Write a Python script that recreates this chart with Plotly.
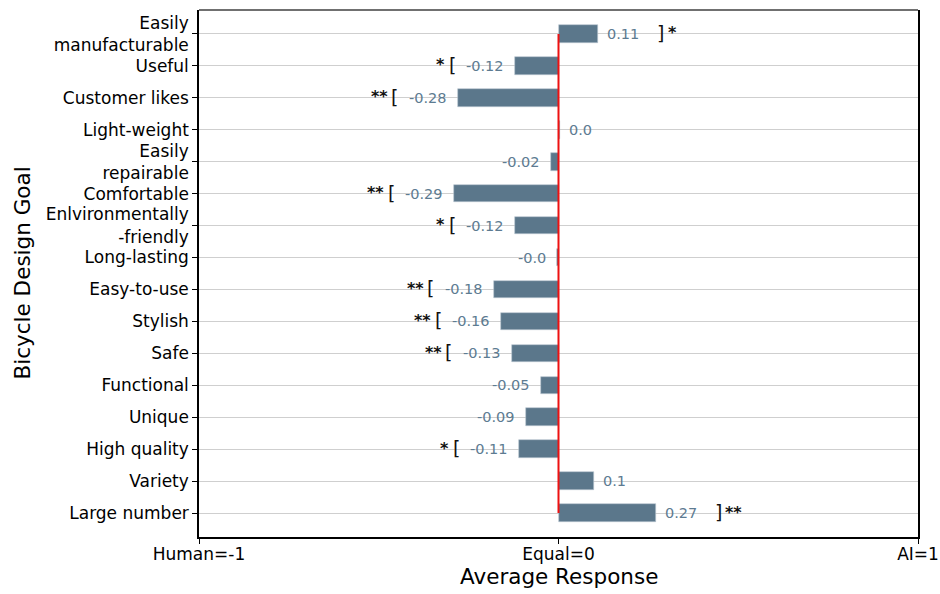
import plotly.graph_objects as go

categories = [
    "Easily<br>manufacturable", "Useful", "Customer likes", "Light-weight",
    "Easily<br>repairable", "Comfortable", "Enlvironmentally<br>-friendly",
    "Long-lasting", "Easy-to-use", "Stylish", "Safe", "Functional",
    "Unique", "High quality", "Variety", "Large number",
]
values = [0.11, -0.12, -0.28, 0.004, -0.02, -0.29, -0.12, -0.004,
          -0.18, -0.16, -0.13, -0.05, -0.09, -0.11, 0.10, 0.27]
significance = ["*", "*", "**", "", "", "**", "*", "",
                "**", "**", "**", "", "", "*", "", "**"]
x_tick_vals = [-1, 0, 1]
x_tick_text = ["Human=-1", "Equal=0", "AI=1"]
x_title = "Average Response"
y_title = "Bicycle Design Goal"

BAR = "#5b778b"
TXT = "#5d7b91"
FONT = "DejaVu Sans"

fig = go.Figure()
fig.add_trace(go.Bar(
    x=values, y=categories, orientation="h", width=0.55,
    marker=dict(color=BAR, line=dict(color="#b8c6d0", width=0.6)),
    hoverinfo="skip", showlegend=False,
))
fig.add_trace(go.Scatter(
    x=[0, 0], y=[categories[0], categories[-1]], mode="lines",
    line=dict(color="#ee1111", width=2), hoverinfo="skip", showlegend=False,
))

annotations = []
for cat, v, sig in zip(categories, values, significance):
    label = str(round(v, 2))
    pos = v >= 0 and label[0] != "-"
    annotations.append(dict(
        x=v, y=cat, text=label, showarrow=False,
        xanchor="left" if pos else "right", xshift=7 if pos else -9,
        font=dict(family=FONT, size=14.5, color=TXT),
    ))
    if sig:
        off = 0.175
        bx = v + off if pos else v - off
        annotations.append(dict(
            x=bx, y=cat, text="]" if pos else "[", showarrow=False,
            xanchor="center", yshift=1,
            font=dict(family=FONT, size=19, color="#111111"),
        ))
        annotations.append(dict(
            x=bx, y=cat, text="<b>" + sig + "</b>", showarrow=False,
            xanchor="left" if pos else "right", xshift=5 if pos else -5,
            yshift=1,
            font=dict(family=FONT, size=16, color="#111111"),
        ))

# axis titles as paper-anchored annotations
annotations.append(dict(
    x=0.5, y=0, xref="paper", yref="paper", text=x_title, showarrow=False,
    xanchor="center", yanchor="middle", yshift=-39,
    font=dict(family=FONT, size=21.5, color="black"),
))
annotations.append(dict(
    x=0, y=0.5, xref="paper", yref="paper", text=y_title, showarrow=False,
    textangle=-90, xanchor="center", yanchor="middle", xshift=-177,
    font=dict(family=FONT, size=21.5, color="black"),
))

fig.update_layout(
    width=940, height=594,
    margin=dict(l=199, r=22, t=10, b=57),
    paper_bgcolor="white", plot_bgcolor="white",
    font=dict(family=FONT, color="black"),
    annotations=annotations,
    bargap=0,
    shapes=[dict(type="line", xref="paper", yref="paper", x0=0, x1=1, y0=1, y1=1,
                 line=dict(color="#707070", width=2))],
)
fig.update_xaxes(
    automargin=False,
    range=[-1, 1], tickvals=x_tick_vals, ticktext=x_tick_text,
    ticklabeloverflow="allow", ticklabelstandoff=-4,
    ticks="outside", ticklen=5, tickcolor="black", tickwidth=1,
    showgrid=False, zeroline=False, showline=True, linecolor="black", linewidth=1.5,
    tickfont=dict(family=FONT, size=17, color="black"),
)
fig.update_yaxes(
    automargin=False,
    categoryorder="array", categoryarray=categories,
    range=[15.75, -0.75],
    ticks="outside", ticklen=5, tickcolor="black", tickwidth=1,
    showgrid=True, gridcolor="#cfcfcf", gridwidth=1.3, zeroline=False,
    showline=True, linecolor="black", linewidth=1.5, mirror=True,
    tickfont=dict(family=FONT, size=17, color="black"),
)

fig.write_html(
    "out.html",
    config={"displayModeBar": False},
    post_script="document.body.style.margin='0px';document.documentElement.style.overflow='hidden';",
)
